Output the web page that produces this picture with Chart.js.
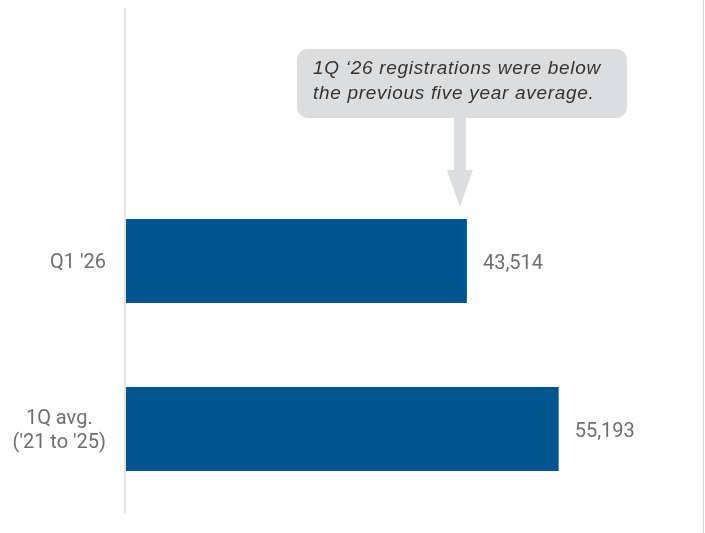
<!DOCTYPE html>
<html>
<head>
<meta charset="utf-8">
<script src="https://cdn.jsdelivr.net/npm/chart.js@4/dist/chart.umd.min.js"></script>
<style>
    html, body { margin: 0; padding: 0; background: #fff; }
    canvas { display: block; }
</style>
</head>
<body>
<canvas id="registrationsChart" width="705" height="533"></canvas>
<script>
// Chart data
const categories = [["Q1 '26"], ["1Q avg.", "('21 to '25)"]];
const registrations = [43514, 55193];
const noteLines = ["1Q \u201826 registrations were below", "the previous five year average."];

const barColor = '#00548f';
const labelColor = '#6e6e6e';
const labelFont = '20px Roboto, "Noto Sans", sans-serif';

// Axis line, category labels, value labels and the callout
const decorations = {
    id: 'decorations',
    afterDraw(chart) {
        const ctx = chart.ctx;
        const area = chart.chartArea;
        const xScale = chart.scales.x;
        const yScale = chart.scales.y;

        ctx.save();

        // frame lines
        ctx.fillStyle = '#e2e2e2';
        ctx.fillRect(area.left - 1, 8, 2, area.bottom - 8);
        ctx.fillStyle = '#d6d6d6';
        ctx.fillRect(chart.width - 2, 0, 1, chart.height);

        // category labels (block right-aligned, lines centred)
        ctx.font = labelFont;
        ctx.fillStyle = labelColor;
        ctx.textBaseline = 'middle';
        ctx.textAlign = 'center';
        const rightEdge = area.left - 19;
        categories.forEach((lines, i) => {
            const y = yScale.getPixelForValue(i);
            const w = Math.max(...lines.map(l => ctx.measureText(l).width));
            const cx = rightEdge - w / 2;
            const lh = 24;
            lines.forEach((line, j) => {
                ctx.fillText(line, cx, y + 2 + (j - (lines.length - 1) / 2) * lh);
            });
        });

        // value labels
        ctx.textAlign = 'left';
        registrations.forEach((v, i) => {
            const x = xScale.getPixelForValue(v) + 16;
            const y = yScale.getPixelForValue(i) + 3;
            ctx.fillText(v.toLocaleString('en-US'), x, y);
        });

        // callout box
        const box = { x: 297, y: 49, w: 330, h: 69, r: 11 };
        ctx.fillStyle = '#dcdddf';
        ctx.beginPath();
        ctx.roundRect(box.x, box.y, box.w, box.h, box.r);
        ctx.fill();

        // arrow pointing at the first bar
        const tipX = xScale.getPixelForValue(registrations[0]) - 7;
        const bar0 = chart.getDatasetMeta(0).data[0];
        const tipY = bar0.y - bar0.height / 2 - 12;
        ctx.fillRect(tipX - 6, box.y + box.h, 12, 54);
        ctx.beginPath();
        ctx.moveTo(tipX - 13, tipY - 37);
        ctx.lineTo(tipX + 13, tipY - 37);
        ctx.lineTo(tipX, tipY);
        ctx.closePath();
        ctx.fill();

        // callout text
        ctx.fillStyle = '#333333';
        ctx.font = 'italic 19px "Liberation Sans", Arial, sans-serif';
        ctx.letterSpacing = '0.7px';
        ctx.textAlign = 'left';
        ctx.textBaseline = 'middle';
        noteLines.forEach((line, i) => {
            ctx.fillText(line, 313, 69 + i * 25);
        });

        ctx.restore();
    }
};

new Chart(document.getElementById('registrationsChart'), {
    type: 'bar',
    data: {
        labels: categories,
        datasets: [{
            data: registrations,
            backgroundColor: barColor,
            borderWidth: 0,
            barPercentage: 0.5,
            categoryPercentage: 1.0
        }]
    },
    options: {
        indexAxis: 'y',
        responsive: false,
        animation: false,
        layout: { padding: { left: 125, right: 30, top: 177, bottom: 20 } },
        plugins: {
            legend: { display: false },
            tooltip: { enabled: false }
        },
        scales: {
            x: { display: false, min: 0, max: 70000 },
            y: { display: false }
        }
    },
    plugins: [decorations]
});
</script>
</body>
</html>
